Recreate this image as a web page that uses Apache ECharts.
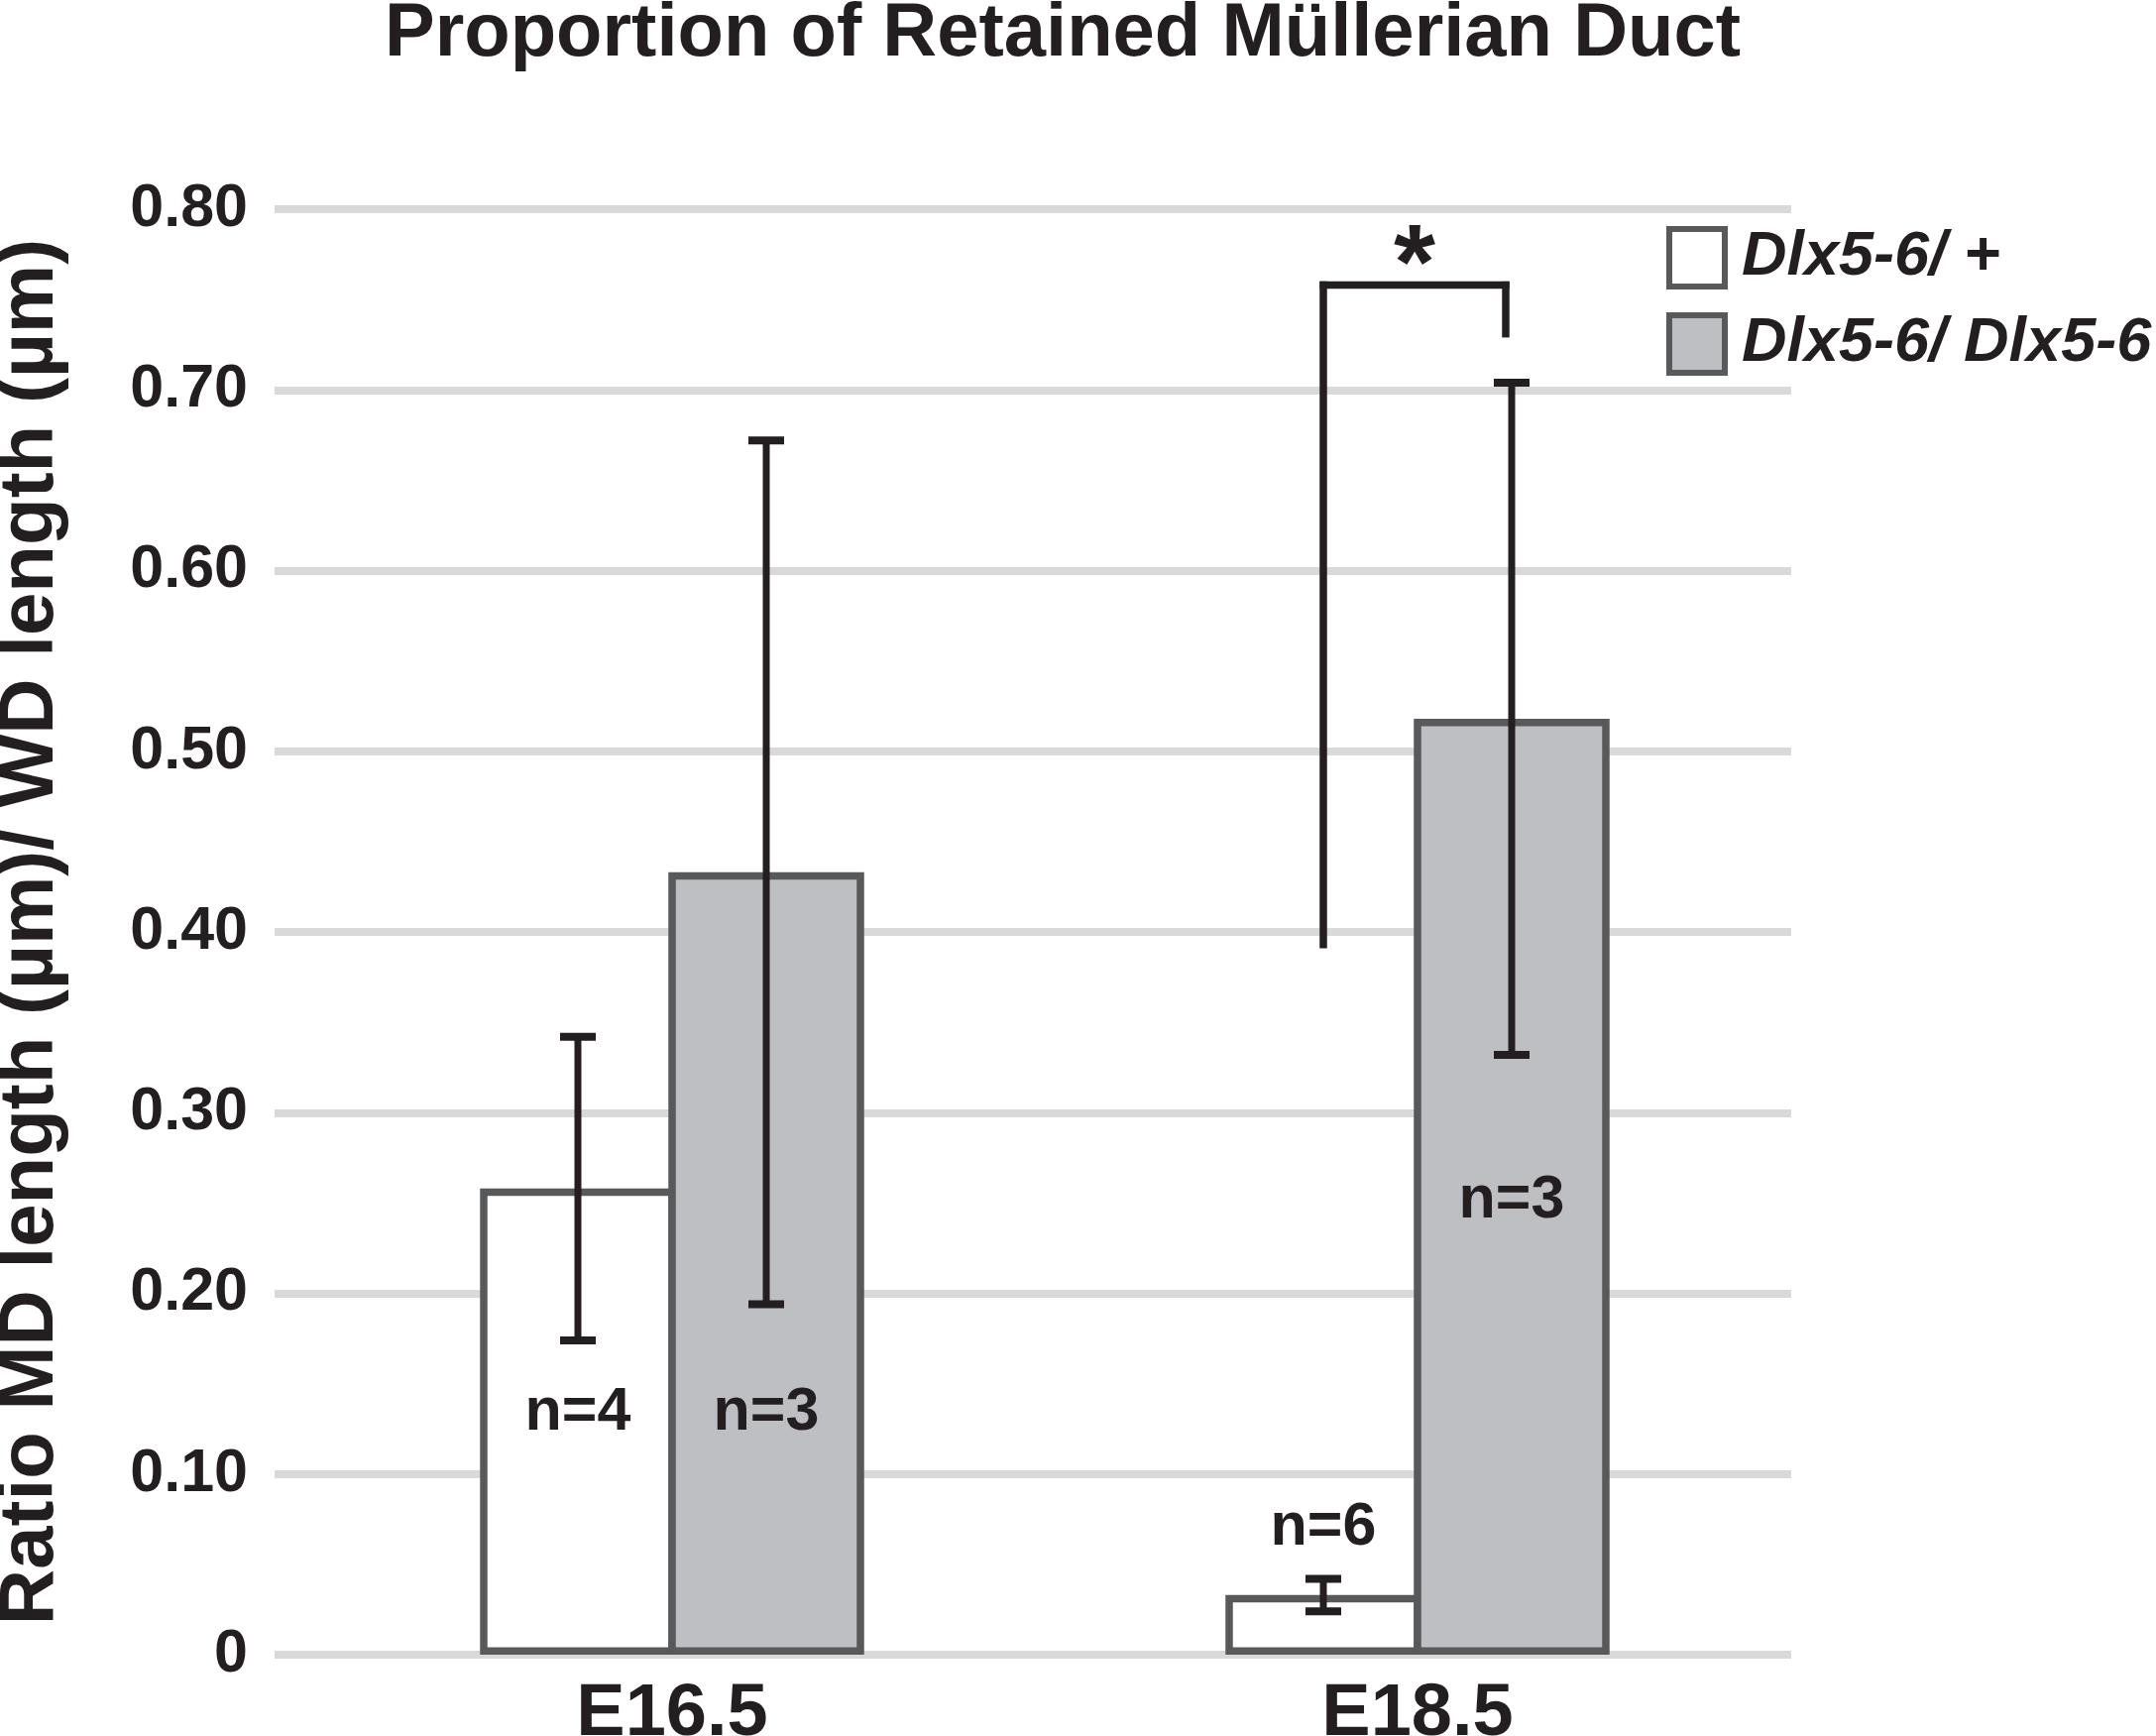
<!DOCTYPE html>
<html>
<head>
<meta charset="utf-8">
<title>Proportion of Retained Müllerian Duct</title>
<script src="https://cdn.jsdelivr.net/npm/echarts@6/dist/echarts.min.js"></script>
<style>
html, body { margin: 0; padding: 0; background: #fff; }
#chart { width: 2175px; height: 1751px; }
</style>
</head>
<body>
<div id="chart"></div>
<script>
// data
var categories = ['E16.5', 'E18.5'];
var seriesNames = ['Dlx5-6/ +', 'Dlx5-6/ Dlx5-6'];
var hetMean = [0.258, 0.033];
var hetErr = [0.084, 0.009];
var homMean = [0.433, 0.518];
var homErr = [0.239, 0.186];
var hetN = ['n=4', 'n=6'];
var homN = ['n=3', 'n=3'];
var hetNAt = [0.134, 0.070];
var homNAt = [0.134, 0.251];
var yTickLabels = ['0', '0.10', '0.20', '0.30', '0.40', '0.50', '0.60', '0.70', '0.80'];
// significance bracket (E18.5)
var sigCategory = 1;
var sigLeftFrom = 0.391;
var sigTop = 0.758;
var sigRightFrom = 0.729;
var sigMark = '*';

var INK = '#231f20';
var EDGE = '#58595b';
var GREY = '#bebfc3';
var FONT = '"Liberation Sans", Arial, Helvetica, sans-serif';
var BAR_W = 190;
var BORDER = 7.5;

var chart = echarts.init(document.getElementById('chart'));

var errData = [];
var labelItems = [];
for (var i = 0; i < categories.length; i++) {
	errData.push([i, hetMean[i], hetErr[i], -1]);
	errData.push([i, homMean[i], homErr[i], 1]);
	labelItems.push({ cat: i, y: hetNAt[i], side: -1, text: hetN[i] });
	labelItems.push({ cat: i, y: homNAt[i], side: 1, text: homN[i] });
}

function renderErr(params, api) {
	var cat = api.value(0), m = api.value(1), e = api.value(2), side = api.value(3);
	var lo = api.coord([cat, m - e]);
	var hi = api.coord([cat, m + e]);
	var x = lo[0] + side * BAR_W / 2;
	var cap = 18;
	return {
		type: 'group',
		children: [
			{ type: 'line', shape: { x1: x, y1: lo[1], x2: x, y2: hi[1] }, style: { stroke: INK, lineWidth: 7 } },
			{ type: 'line', shape: { x1: x - cap, y1: hi[1], x2: x + cap, y2: hi[1] }, style: { stroke: INK, lineWidth: 8 } },
			{ type: 'line', shape: { x1: x - cap, y1: lo[1], x2: x + cap, y2: lo[1] }, style: { stroke: INK, lineWidth: 8 } }
		]
	};
}

function renderN(params, api) {
	var it = labelItems[params.dataIndex];
	var p = api.coord([it.cat, it.y]);
	return {
		type: 'text',
		x: p[0] + it.side * BAR_W / 2,
		y: p[1],
		style: {
			text: it.text,
			fill: INK,
			font: 'bold 61px ' + FONT,
			align: 'center',
			verticalAlign: 'middle'
		}
	};
}

function renderSig(params, api) {
	var cat = api.value(0);
	var a = api.coord([cat, api.value(1)]);
	var t = api.coord([cat, api.value(2)]);
	var b = api.coord([cat, api.value(3)]);
	var xl = a[0] - BAR_W / 2;
	var xr = a[0] + BAR_W / 2 - 6;
	var st = { stroke: INK, lineWidth: 7.5 };
	return {
		type: 'group',
		children: [
			{ type: 'line', shape: { x1: xl, y1: a[1], x2: xl, y2: t[1] - 3.7 }, style: st },
			{ type: 'line', shape: { x1: xl - 3.7, y1: t[1], x2: xr + 3.7, y2: t[1] }, style: st },
			{ type: 'line', shape: { x1: xr, y1: t[1] - 3.7, x2: xr, y2: b[1] }, style: st },
			{
				type: 'text',
				x: (xl + xr) / 2,
				y: t[1] - 16,
				style: {
					text: sigMark,
					fill: INK,
					font: 'bold 108px ' + FONT,
					align: 'center',
					verticalAlign: 'middle'
				}
			}
		]
	};
}

// ECharts keeps the bar border inside the rect, so widen the rect by one border
// and overlap neighbours by the same amount to keep the edges where they belong
var barOpts = {
	type: 'bar',
	xAxisIndex: 1,
	yAxisIndex: 1,
	barWidth: BAR_W + BORDER,
	barGap: (-100 * BORDER / (BAR_W + BORDER)).toFixed(2) + '%'
};

var option = {
	backgroundColor: '#fff',
	animation: false,
	title: {
		text: 'Proportion of Retained Müllerian Duct',
		left: 1072,
		textAlign: 'center',
		top: -3,
		padding: 0,
		textStyle: { fontFamily: FONT, fontWeight: 'bold', fontSize: 76, color: INK }
	},
	legend: {
		orient: 'vertical',
		left: 1681,
		top: 228,
		padding: 0,
		itemWidth: 56,
		itemHeight: 58,
		itemGap: 23,
		icon: 'rect',
		data: seriesNames,
		itemStyle: { borderColor: EDGE, borderWidth: 6 },
		textStyle: {
			fontFamily: FONT, fontWeight: 'bold', fontStyle: 'italic',
			fontSize: 63, lineHeight: 60, color: INK, padding: [0, 0, 0, 12]
		}
	},
	grid: [
		{ left: 277, right: 368, top: 211, bottom: 82, outerBoundsMode: 'none' },
		{ left: 302, right: 369, top: 211, bottom: 82, outerBoundsMode: 'none' }
	],
	xAxis: [
		{ gridIndex: 0, type: 'value', min: 0, max: 1, show: false },
		{
			gridIndex: 1,
			type: 'category',
			data: categories,
			axisLine: { show: false },
			axisTick: { show: false },
			axisLabel: {
				margin: 24,
				fontFamily: FONT, fontWeight: 'bold', fontSize: 74, color: INK
			}
		}
	],
	yAxis: [
		{
			gridIndex: 0,
			type: 'value',
			min: 0,
			max: 0.8,
			interval: 0.1,
			name: 'Ratio MD length (µm)/ WD length (µm)',
			nameLocation: 'middle',
			nameGap: 207,
			nameTextStyle: { fontFamily: FONT, fontWeight: 'bold', fontSize: 78, color: INK },
			axisLine: { show: false },
			axisTick: { show: false },
			splitLine: { lineStyle: { color: '#d9d9d9', width: 8 } },
			axisLabel: {
				margin: 27,
				fontFamily: FONT, fontWeight: 'bold', fontSize: 61, color: INK,
				formatter: function (v) { return yTickLabels[Math.round(v * 10)]; }
			}
		},
		{ gridIndex: 1, type: 'value', min: 0, max: 0.8, show: false }
	],
	series: [
		Object.assign({
			name: seriesNames[0],
			data: hetMean,
			itemStyle: { color: '#ffffff', borderColor: EDGE, borderWidth: BORDER }
		}, barOpts),
		Object.assign({
			name: seriesNames[1],
			data: homMean,
			itemStyle: { color: GREY, borderColor: EDGE, borderWidth: BORDER }
		}, barOpts),
		{
			type: 'custom',
			xAxisIndex: 1,
			yAxisIndex: 1,
			renderItem: renderErr,
			data: errData,
			z: 5
		},
		{
			type: 'custom',
			xAxisIndex: 1,
			yAxisIndex: 1,
			renderItem: renderN,
			data: labelItems.map(function (it) { return [it.cat, it.y]; }),
			z: 6
		},
		{
			type: 'custom',
			xAxisIndex: 1,
			yAxisIndex: 1,
			renderItem: renderSig,
			data: [[sigCategory, sigLeftFrom, sigTop, sigRightFrom]],
			z: 6
		}
	]
};

chart.setOption(option);
</script>
</body>
</html>
